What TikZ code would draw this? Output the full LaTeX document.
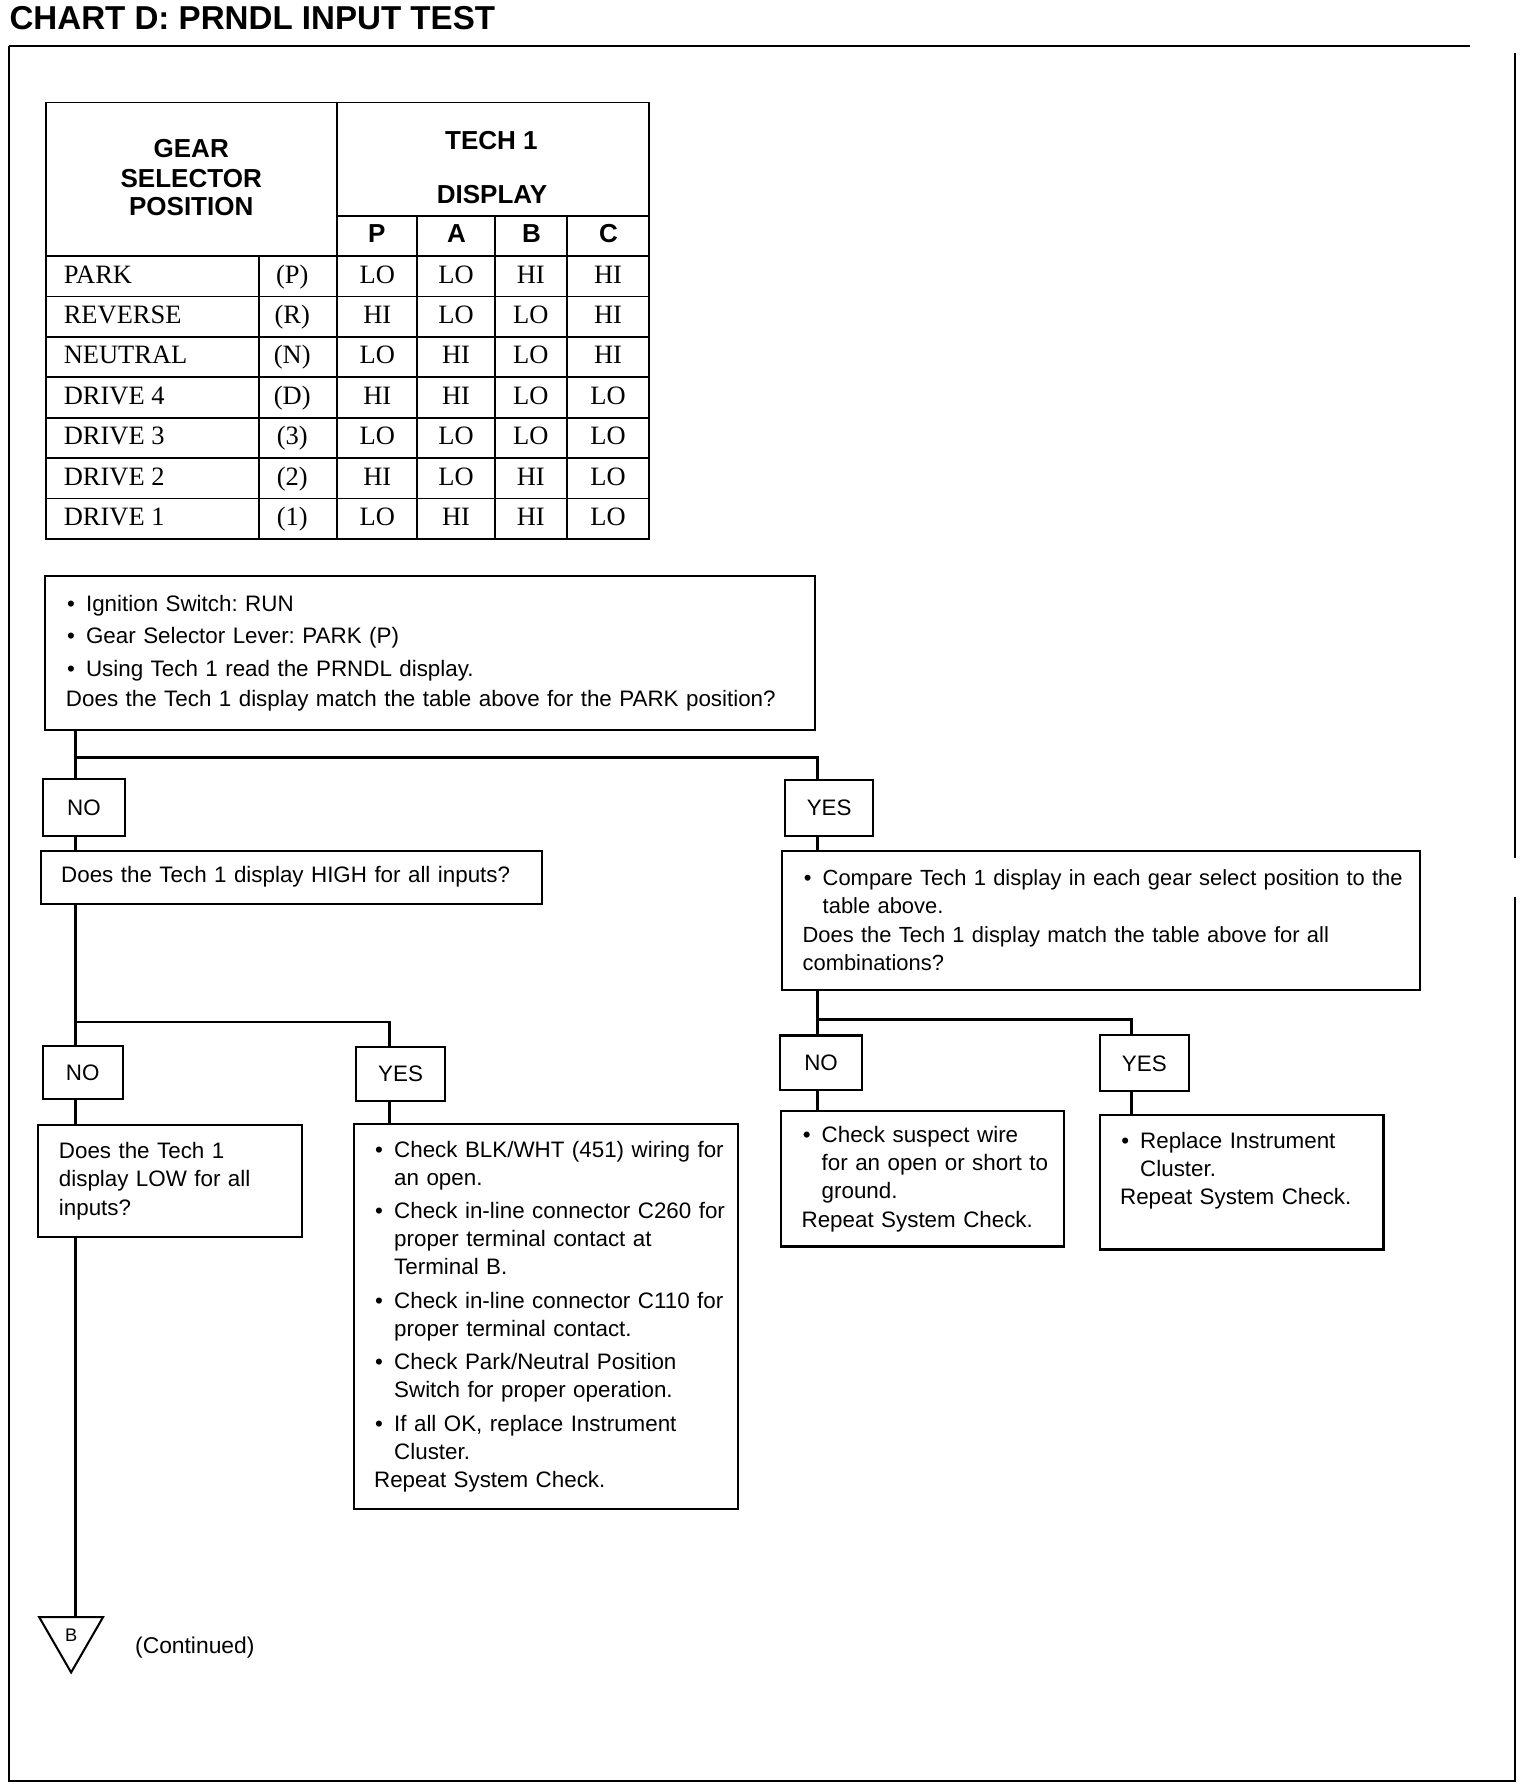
\documentclass[tikz,border=0pt]{standalone}
\usepackage{fontspec}
\setmainfont{Liberation Sans}
\newfontfamily\serifcell{Liberation Serif}
\usetikzlibrary{shapes.geometric}
\frenchspacing
\newcommand{\bl}[1]{\mbox{\makebox[8.8pt][l]{\hspace{0.5pt}\textbullet}#1}}
\newcommand{\cl}[1]{\mbox{\hspace*{8.8pt}#1}}
\newcommand{\pl}[1]{\mbox{#1}}
\begin{document}
\begin{tikzpicture}[x=0.5pt,y=-0.5pt,
  box/.style={draw, line width=0.9pt, inner xsep=9pt, inner ysep=1pt, align=left, anchor=north west, font=\fontsize{9.8}{12.35}\selectfont},
  lbl/.style={draw, line width=0.9pt, inner sep=0pt, font=\fontsize{9.8}{12}\selectfont},
  conn/.style={line width=1.1pt},
  tabline/.style={line width=0.8pt},
  cell/.style={font=\serifcell\fontsize{11.6}{13}\selectfont, inner sep=0pt, anchor=base},
  head/.style={font=\bfseries\fontsize{11.4}{12.65}\selectfont, inner sep=0pt, anchor=base},
  frameline/.style={line width=0.9pt}
]
\useasboundingbox (0,0) rectangle (1346,1568);

% title
\node[anchor=base west, inner sep=0pt, font=\bfseries\fontsize{14.5}{16}\selectfont] (title) at (8,26) {CHART D: PRNDL INPUT TEST};

% frame
\draw[frameline] (8,40) -- (1288,40);
\draw[frameline] (8,40) -- (8,1560) -- (1327,1560) -- (1327,786);
\draw[frameline] (1327,752) -- (1327,46);

% table grid
\draw[tabline] (40,89.8) rectangle (568.4,472);
\draw[tabline] (295.3,89.8) -- (295.3,472);
\draw[tabline] (295.3,189) -- (568.4,189);
\foreach \x in {365.6,433.4,496.8} \draw[tabline] (\x,189) -- (\x,472);
\draw[tabline] (227,224.4) -- (227,472);
\foreach \k in {0,...,6} \draw[tabline] (40,{224.4+35.37*\k}) -- (568.4,{224.4+35.37*\k});

% table header
\node[head] (gear) at (167.5,138.4) {GEAR};
\node[head] (selector) at (167.5,164) {SELECTOR};
\node[head] (position) at (167.5,189) {POSITION};
\node[head] (tech) at (430.5,130.6) {TECH 1};
\node[head] (display) at (431,178.3) {DISPLAY};
\node[head] (hP) at (330,212.5) {P};
\node[head] (hA) at (400,212.5) {A};
\node[head] (hB) at (465.5,212.5) {B};
\node[head] (hC) at (533,212.5) {C};

% table body
\foreach \nm/\ab/\dP/\dA/\dB/\dC [count=\i] in {
 PARK/(P)/LO/LO/HI/HI,
 REVERSE/(R)/HI/LO/LO/HI,
 NEUTRAL/(N)/LO/HI/LO/HI,
 DRIVE 4/(D)/HI/HI/LO/LO,
 DRIVE 3/(3)/LO/LO/LO/LO,
 DRIVE 2/(2)/HI/LO/HI/LO,
 DRIVE 1/(1)/LO/HI/HI/LO}{
  \pgfmathsetmacro\yb{224.4+35.37*(\i-0.5)+6}
  \node[cell, anchor=base west] (nm\i) at (55.5,\yb) {\nm};
  \node[cell] (ab\i) at (256,\yb) {\ab};
  \node[cell] (vp\i) at (330.5,\yb) {\dP};
  \node[cell] (va\i) at (399.5,\yb) {\dA};
  \node[cell] (vb\i) at (465,\yb) {\dB};
  \node[cell] (vc\i) at (532.6,\yb) {\dC};
}

% boxes
\node[box, text width=319.2pt, minimum width=337.2pt, minimum height=67.1pt] (b1) at (38.9,504) {%
\bl{Ignition Switch: RUN}\\[1.8pt]
\bl{Gear Selector Lever: PARK (P)}\\[1.8pt]
\bl{Using Tech 1 read the PRNDL display.}\\[0.8pt]
\pl{Does the Tech 1 display match the table above for the PARK position?}};

\node[box, text width=201.4pt, minimum width=219.4pt, minimum height=23.25pt] (high) at (34.7,744.2) {\pl{Does the Tech 1 display HIGH for all inputs?}};

\node[box, text width=97.35pt, minimum width=115.35pt, minimum height=49.3pt] (low) at (32.7,984.4) {\pl{Does the Tech 1}\\ \pl{display LOW for all}\\ \pl{inputs?}};

\node[box, text width=150.4pt, minimum width=168.4pt, minimum height=168.5pt] (chk) at (308.8,983.8) {%
\bl{Check BLK/WHT (451) wiring for}\\ \cl{an open.}\\[2.2pt]
\bl{Check in-line connector C260 for}\\ \cl{proper terminal contact at}\\ \cl{Terminal B.}\\[2.2pt]
\bl{Check in-line connector C110 for}\\ \cl{proper terminal contact.}\\[2.2pt]
\bl{Check Park/Neutral Position}\\ \cl{Switch for proper operation.}\\[2.2pt]
\bl{If all OK, replace Instrument}\\ \cl{Cluster.}\\
\pl{Repeat System Check.}};

\node[box, text width=261.2pt, minimum width=279.2pt, minimum height=60.85pt, font=\fontsize{9.6}{12.35}\selectfont] (cmp) at (684.2,744.3) {%
\bl{Compare Tech 1 display in each gear select position to the}\\ \cl{table above.}\\
\pl{Does the Tech 1 display match the table above for all}\\ \pl{combinations?}};

\node[box, text width=106.1pt, minimum width=124.1pt, minimum height=59.15pt] (sus) at (683.3,972.7) {%
\bl{Check suspect wire}\\ \cl{for an open or short to}\\ \cl{ground.}\\ \pl{Repeat System Check.}};

\node[box, text width=106.35pt, minimum width=124.35pt, minimum height=58.7pt] (rep) at (962.3,976.2) {%
\bl{Replace Instrument}\\ \cl{Cluster.}\\ \pl{Repeat System Check.}\\ \mbox{}};

% labels
\node[lbl, minimum width=35.6pt, minimum height=24.85pt] (no1) at (73.6,707.5) {NO};
\node[lbl, minimum width=38.65pt, minimum height=24.7pt] (yes1) at (726.3,707.6) {YES};
\node[lbl, minimum width=35pt, minimum height=23.35pt] (no2) at (72.5,939.7) {NO};
\node[lbl, minimum width=38.65pt, minimum height=23.8pt] (yes2) at (350.9,941) {YES};
\node[lbl, minimum width=35.85pt, minimum height=23.75pt] (no3) at (719.2,930.8) {NO};
\node[lbl, minimum width=38.85pt, minimum height=24.5pt] (yes3) at (1002.4,931.5) {YES};

% off-page connector
\node[draw, line width=0.9pt, regular polygon, regular polygon sides=3, shape border rotate=180, minimum size=32.3pt, inner sep=0pt, font=\fontsize{8}{9}\selectfont] (tri) at (62.3,1432.7) {\raisebox{-1pt}{B}};
\node[anchor=base west, inner sep=0pt, font=\fontsize{10}{12}\selectfont] (cont) at (118,1448) {(Continued)};

% trunk coordinates
\coordinate (xL) at (66,0);
\coordinate (xR) at (716,0);
\coordinate (xM) at (341,0);
\coordinate (xS) at (991,0);
\coordinate (br1) at (0,663.6);
\coordinate (br2) at (0,895.3);
\coordinate (br3) at (0,893);

% connectors
\draw[conn] (b1.south -| xL) -- (no1.north -| xL);
\draw[conn] (xL |- br1) -| (yes1.north -| xR);
\draw[conn] (no1.south -| xL) -- (high.north -| xL);
\draw[conn] (yes1.south -| xR) -- (cmp.north -| xR);
\draw[conn] (high.south -| xL) -- (no2.north -| xL);
\draw[conn] (xL |- br2) -| (yes2.north -| xM);
\draw[conn] (no2.south -| xL) -- (low.north -| xL);
\draw[conn] (yes2.south -| xM) -- (chk.north -| xM);
\draw[conn] (low.south -| xL) -- (tri.north -| xL);
\draw[conn] (cmp.south -| xR) -- (no3.north -| xR);
\draw[conn] (xR |- br3) -| (yes3.north -| xS);
\draw[conn] (no3.south -| xR) -- (sus.north -| xR);
\draw[conn] (yes3.south -| xS) -- (rep.north -| xS);
\end{tikzpicture}
\end{document}
